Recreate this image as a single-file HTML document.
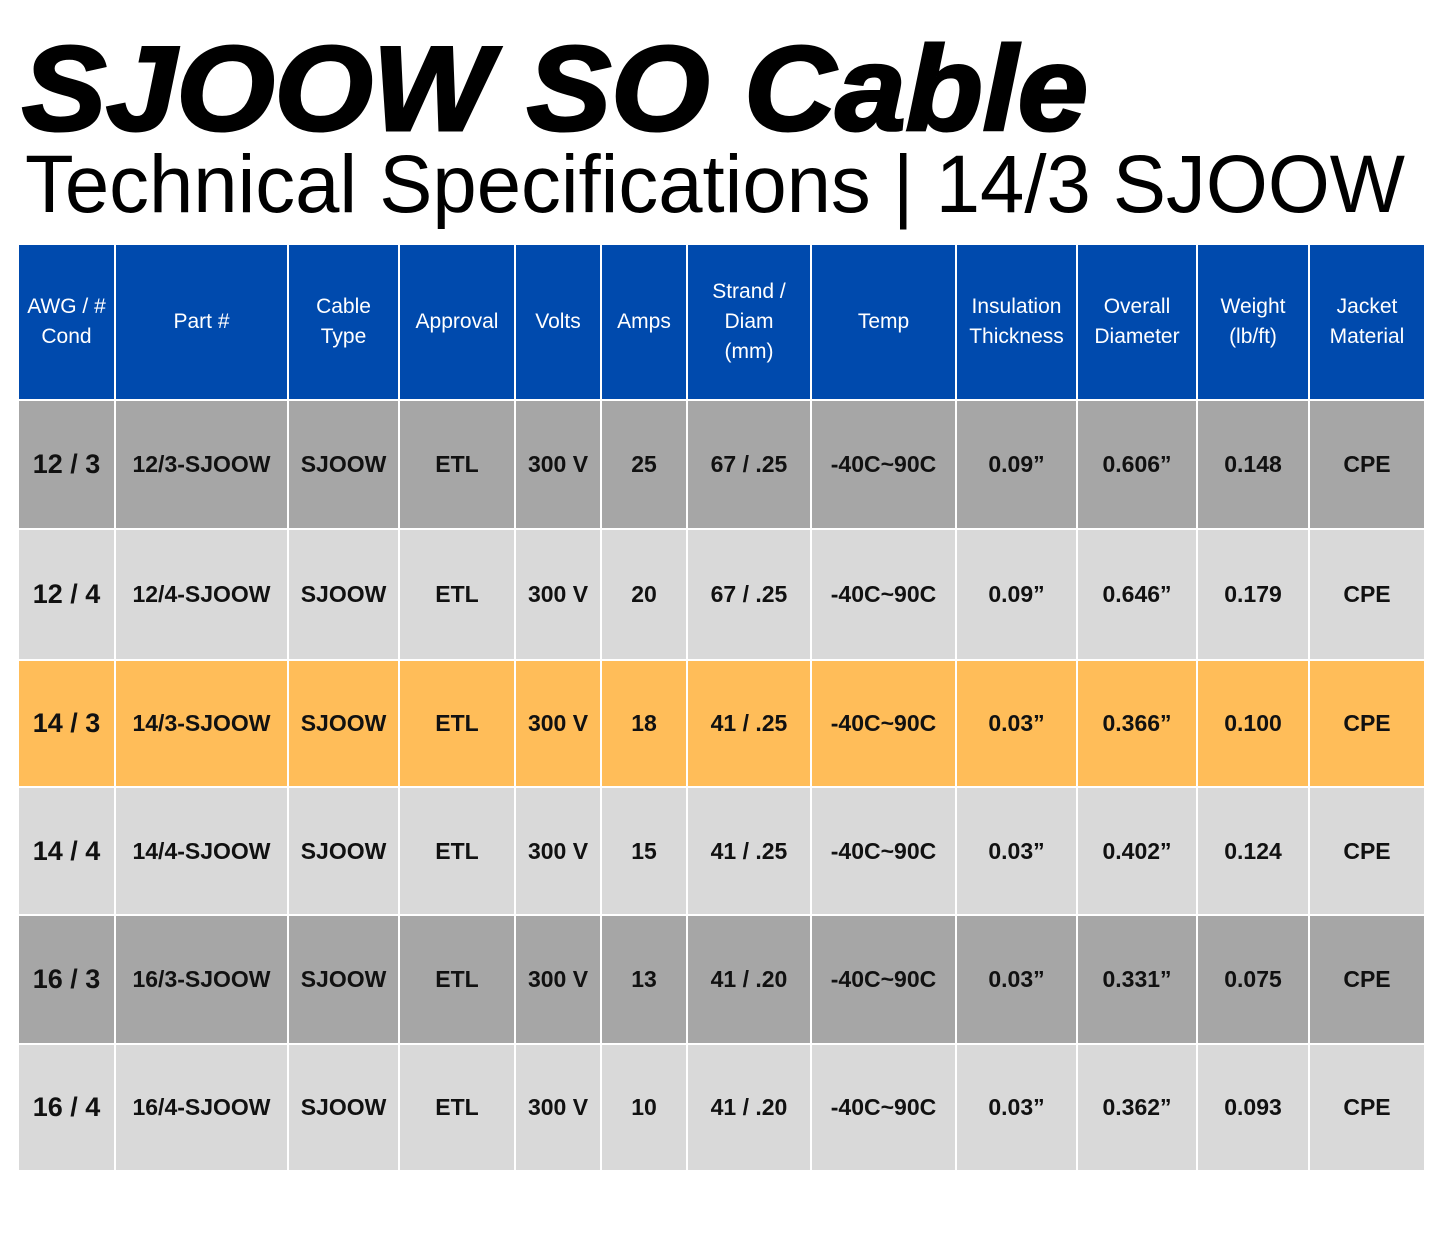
<!DOCTYPE html>
<html><head><meta charset="utf-8"><style>
html,body{margin:0;padding:0;background:#fff;}
body{width:1445px;height:1239px;position:relative;overflow:hidden;font-family:"Liberation Sans",sans-serif;}
.c{position:absolute;display:flex;align-items:center;justify-content:center;text-align:center;box-sizing:border-box;}
.h{background:#004aad;color:#fff;font-size:21px;line-height:30px;}
.b{font-weight:bold;font-size:23px;color:#111;}
</style></head><body>
<svg width="1445" height="240" style="position:absolute;left:0;top:0">
<text x="22" y="130" font-family="Liberation Sans" font-weight="bold" font-style="italic" font-size="120" textLength="1066" lengthAdjust="spacingAndGlyphs" stroke="#000" stroke-width="3">SJOOW SO Cable</text>
<text x="25" y="212" font-family="Liberation Sans" font-size="82" textLength="1380" lengthAdjust="spacingAndGlyphs">Technical Specifications | 14/3 SJOOW</text>
</svg>
<div id="t"></div>
<script>
var xs=[19,116,289,400,516,602,688,812,957,1078,1198,1310,1426];
var ys=[245,401,530,661,788,916,1045,1172];
var hd=["AWG / #<br>Cond","Part #","Cable<br>Type","Approval","Volts","Amps","Strand /<br>Diam<br>(mm)","Temp","Insulation<br>Thickness","Overall<br>Diameter","Weight<br>(lb/ft)","Jacket<br>Material"];
var rows=[
["12 / 3","12/3-SJOOW","SJOOW","ETL","300 V","25","67 / .25","-40C~90C","0.09”","0.606”","0.148","CPE"],
["12 / 4","12/4-SJOOW","SJOOW","ETL","300 V","20","67 / .25","-40C~90C","0.09”","0.646”","0.179","CPE"],
["14 / 3","14/3-SJOOW","SJOOW","ETL","300 V","18","41 / .25","-40C~90C","0.03”","0.366”","0.100","CPE"],
["14 / 4","14/4-SJOOW","SJOOW","ETL","300 V","15","41 / .25","-40C~90C","0.03”","0.402”","0.124","CPE"],
["16 / 3","16/3-SJOOW","SJOOW","ETL","300 V","13","41 / .20","-40C~90C","0.03”","0.331”","0.075","CPE"],
["16 / 4","16/4-SJOOW","SJOOW","ETL","300 V","10","41 / .20","-40C~90C","0.03”","0.362”","0.093","CPE"]];
var bg=["#a6a6a6","#d9d9d9","#ffbd59","#d9d9d9","#a6a6a6","#d9d9d9"];
var h="";
for(var j=0;j<12;j++){h+='<div class="c h" style="left:'+xs[j]+'px;top:'+ys[0]+'px;width:'+(xs[j+1]-xs[j]-2)+'px;height:'+(ys[1]-ys[0]-2)+'px">'+hd[j]+'</div>';}
for(var i=0;i<6;i++)for(var j=0;j<12;j++){
h+='<div class="c b" style="left:'+xs[j]+'px;top:'+ys[i+1]+'px;width:'+(xs[j+1]-xs[j]-2)+'px;height:'+(ys[i+2]-ys[i+1]-2)+'px;background:'+bg[i]+(j==0?';font-size:27px':'')+'">'+rows[i][j]+'</div>';}
document.getElementById("t").innerHTML=h;
</script>
</body></html>
